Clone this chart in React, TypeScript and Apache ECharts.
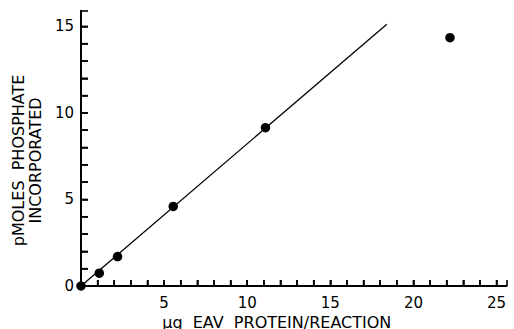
import React, { useEffect, useRef } from "react";
import * as echarts from "echarts";

const xValues = [0, 1.1, 2.2, 5.55, 11.1, 22.2];
const yValues = [0, 0.74, 1.7, 4.6, 9.15, 14.35];
const fitLine = [
  [0, 0],
  [18.4, 15.12],
];
const xTickValues = [1, 2, 3, 4, 5, 6, 7, 8, 9, 10, 11, 12, 13, 14, 15, 16, 17, 18, 19, 20, 21, 22, 23, 24, 25];
const yTickValues = [1, 2, 3, 4, 5, 6, 7, 8, 9, 10, 11, 12, 13, 14, 15];
const xTitle = "µg  EAV  PROTEIN/REACTION";
const yTitle = "pMOLES  PHOSPHATE\nINCORPORATED";

export default function App() {
  const ref = useRef<HTMLDivElement>(null);
  useEffect(() => {
    if (!ref.current) return;
    const chart = echarts.init(ref.current, null, { renderer: "svg" });
    const font = "DejaVu Sans";
    chart.setOption({
      animation: false,
      grid: { left: 81, right: 7.5, top: 10.8, bottom: 43, containLabel: false, outerBoundsMode: "none" },
      xAxis: {
        type: "value",
        min: 0,
        max: 25.6,
        interval: 5,
        splitLine: { show: false },
        axisLine: { show: true, lineStyle: { color: "#000", width: 2 } },
        axisTick: { show: true, inside: true, length: 6, lineStyle: { color: "#000", width: 1.6 } },
        minorTick: { show: true, splitNumber: 5, length: 6, lineStyle: { color: "#000", width: 1.6 } },
        axisLabel: {
          color: "#000",
          fontFamily: font,
          fontSize: 15,
          margin: 9,
          showMinLabel: false,
          showMaxLabel: false,
        },
        name: xTitle,
        nameLocation: "middle",
        nameGap: 24,
        nameTextStyle: {
          color: "#000",
          fontFamily: font,
          fontSize: 16,
          lineHeight: 16,
          padding: [0, 34, 0, 0],
        },
      },
      yAxis: {
        type: "value",
        min: 0,
        max: 15.9,
        interval: 5,
        splitLine: { show: false },
        axisLine: { show: true, lineStyle: { color: "#000", width: 2 } },
        axisTick: { show: true, inside: true, length: 7, lineStyle: { color: "#000", width: 1.6 } },
        minorTick: { show: true, splitNumber: 5, length: 7, lineStyle: { color: "#000", width: 1.6 } },
        axisLabel: {
          color: "#000",
          fontFamily: font,
          fontSize: 15,
          margin: 7,
          showMaxLabel: false,
        },
        name: yTitle,
        nameLocation: "middle",
        nameGap: 27,
        nameTextStyle: {
          color: "#000",
          fontFamily: font,
          fontSize: 16,
          lineHeight: 17,
          align: "center",
          padding: [0, 24, 0, 0],
        },
      },
      series: [
        {
          type: "custom",
          silent: true,
          z: 1,
          data: xTickValues.map((v) => [v, 0]),
          renderItem: (params: any, api: any) => {
            const p = api.coord([api.value(0), 0]);
            return {
              type: "line",
              shape: { x1: p[0], y1: p[1], x2: p[0], y2: p[1] - 6 },
              style: { stroke: "#000", lineWidth: 1.6 },
            };
          },
        },
        {
          type: "custom",
          silent: true,
          z: 1,
          data: yTickValues.map((v) => [0, v]),
          renderItem: (params: any, api: any) => {
            const p = api.coord([0, api.value(1)]);
            return {
              type: "line",
              shape: { x1: p[0], y1: p[1], x2: p[0] + 7, y2: p[1] },
              style: { stroke: "#000", lineWidth: 1.6 },
            };
          },
        },
        {
          type: "line",
          data: fitLine,
          symbol: "none",
          lineStyle: { color: "#000", width: 1.3 },
          z: 2,
        },
        {
          type: "scatter",
          data: xValues.map((x, i) => [x, yValues[i]]),
          symbolSize: 9.5,
          itemStyle: { color: "#000", opacity: 1 },
          z: 3,
        },
      ],
    });
    return () => chart.dispose();
  }, []);
  return <div ref={ref} style={{ width: 514, height: 329, position: "absolute", left: 0, top: 0 }} />;
}
